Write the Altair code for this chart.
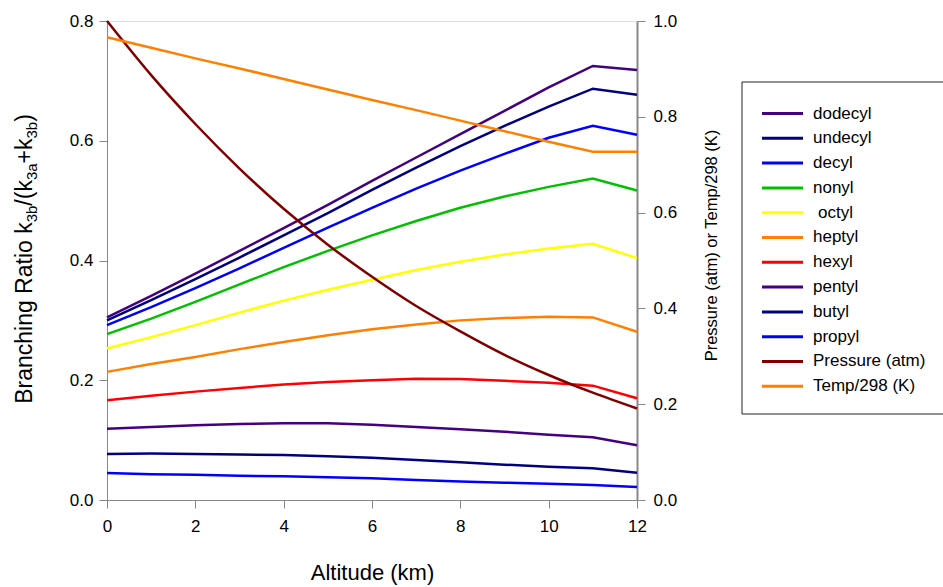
import altair as alt
import pandas as pd

# ---------------- data ----------------
altitude = [0, 1, 2, 3, 4, 5, 6, 7, 8, 9, 10, 11, 12]

dodecyl = [0.305, 0.341, 0.378, 0.416, 0.454, 0.493, 0.533, 0.572, 0.611, 0.650, 0.689, 0.725, 0.718]
undecyl = [0.300, 0.334, 0.369, 0.405, 0.442, 0.479, 0.518, 0.555, 0.591, 0.625, 0.657, 0.687, 0.677]
decyl = [0.292, 0.322, 0.354, 0.387, 0.421, 0.455, 0.488, 0.520, 0.550, 0.578, 0.605, 0.625, 0.610]
nonyl = [0.277, 0.303, 0.331, 0.360, 0.389, 0.416, 0.442, 0.466, 0.488, 0.507, 0.523, 0.537, 0.517]
octyl = [0.253, 0.272, 0.292, 0.313, 0.333, 0.351, 0.368, 0.384, 0.398, 0.410, 0.420, 0.428, 0.404]
heptyl = [0.214, 0.227, 0.239, 0.252, 0.264, 0.275, 0.285, 0.293, 0.300, 0.304, 0.306, 0.305, 0.281]
hexyl = [0.1665, 0.174, 0.181, 0.187, 0.193, 0.197, 0.200, 0.2025, 0.202, 0.199, 0.196, 0.191, 0.170]
pentyl = [0.119, 0.122, 0.1247, 0.127, 0.128, 0.128, 0.1258, 0.122, 0.118, 0.114, 0.109, 0.1047, 0.0913]
butyl = [0.077, 0.0775, 0.077, 0.076, 0.075, 0.073, 0.0707, 0.067, 0.063, 0.059, 0.0557, 0.053, 0.0456]
propyl = [0.045, 0.043, 0.042, 0.0405, 0.0395, 0.038, 0.0362, 0.0335, 0.031, 0.029, 0.027, 0.025, 0.0217]

pressure = [1.000, 0.887, 0.785, 0.692, 0.608, 0.533, 0.466, 0.405, 0.352, 0.303, 0.261, 0.224, 0.191]
temp298 = [0.966, 0.944, 0.922, 0.901, 0.879, 0.857, 0.835, 0.814, 0.792, 0.770, 0.748, 0.727, 0.727]

ratio_names = ["dodecyl", "undecyl", "decyl", "nonyl", "octyl", "heptyl",
               "hexyl", "pentyl", "butyl", "propyl"]
ratio_series = [dodecyl, undecyl, decyl, nonyl, octyl, heptyl, hexyl, pentyl, butyl, propyl]
atm_names = ["Pressure (atm)", "Temp/298 (K)"]
atm_series = [pressure, temp298]
legend_labels = ["dodecyl", "undecyl", "decyl", "nonyl", "octyl", "heptyl",
                 "hexyl", "pentyl", "butyl", "propyl", "Pressure (atm)", "Temp/298 (K)"]
indented_label = "octyl"   # shown with a leading space in the reference legend

all_names = ratio_names + atm_names
colors = ["#440080", "#000080", "#0000FF", "#00C000", "#FFFF00", "#FF8000",
          "#FF0000", "#440080", "#000080", "#0000FF", "#800000", "#FF8000"]

left_ticks = [0.0, 0.2, 0.4, 0.6, 0.8]
right_ticks = [0.0, 0.2, 0.4, 0.6, 0.8, 1.0]
x_ticks = [0, 2, 4, 6, 8, 10, 12]

# ---------------- tables ----------------
ratio_df = pd.DataFrame(
    [{"alt": a, "value": v, "series": n}
     for n, s in zip(ratio_names, ratio_series) for a, v in zip(altitude, s)])
press_df = pd.DataFrame({"alt": altitude, "value": pressure, "series": atm_names[0]})
temp_df = pd.DataFrame({"alt": altitude, "value": temp298, "series": atm_names[1]})
legend_df = pd.DataFrame({"series": all_names, "label": legend_labels,
                          "row": list(range(len(all_names)))})
dummy = pd.DataFrame({"d": [0]})

FONT = "Liberation Sans"
W, H = 530, 479

color_enc = alt.Color("series:N", scale=alt.Scale(domain=all_names, range=colors), legend=None)
x_enc = alt.X("alt:Q", scale=alt.Scale(domain=[0, 12], nice=False),
              axis=alt.Axis(values=x_ticks, title="Altitude (km)", grid=False,
                            tickSize=8, labelPadding=10, labelFontSize=17, labelFlush=False,
                            titleFontSize=22, titleFontWeight="normal",
                            titleY=72, titleBaseline="middle"))

ratio_layer = alt.Chart(ratio_df).mark_line(strokeWidth=2.5).encode(
    x=x_enc,
    y=alt.Y("value:Q", scale=alt.Scale(domain=[0, 0.8], nice=False),
            axis=alt.Axis(orient="left", values=left_ticks, format=".1f", title=None,
                          grid=False, tickSize=8, labelPadding=6, labelFontSize=17,
                          labelFlush=False)),
    color=color_enc,
)

right_y = alt.Y("value:Q", scale=alt.Scale(domain=[0, 1.0], nice=False),
                axis=alt.Axis(orient="right", values=right_ticks, format=".1f",
                              title="Pressure (atm) or Temp/298 (K)", grid=False,
                              tickSize=8, labelPadding=8, labelFontSize=17, labelFlush=False,
                              domainColor="#888888", domainWidth=2,
                              titleFontSize=16.5, titleFontWeight="normal",
                              titleAngle=270, titleX=74, titleY=224,
                              titleAlign="center", titleBaseline="middle"))

press_layer = alt.Chart(press_df).mark_line(strokeWidth=2.5, interpolate="monotone").encode(
    x=alt.X("alt:Q"), y=right_y, color=color_enc)
temp_layer = alt.Chart(temp_df).mark_line(strokeWidth=2.5).encode(
    x=alt.X("alt:Q"), y=alt.Y("value:Q"), color=color_enc)
atm_layer = alt.layer(press_layer, temp_layer)

# ---------------- legend (drawn from the names list) ----------------
box = alt.Chart(dummy).mark_rect(fill="white", stroke="#222222", strokeWidth=1).encode(
    x=alt.value(635), x2=alt.value(870), y=alt.value(61), y2=alt.value(393))

leg_y = alt.Y("row:Q", scale=alt.Scale(domain=[-3.73, 15.585], reverse=True, nice=False,
                                       zero=False), axis=None)
leg_lines = alt.Chart(legend_df).mark_rule(strokeWidth=3).encode(
    x=alt.value(655), x2=alt.value(696), y=leg_y, color=color_enc)
leg_text = alt.Chart(legend_df).mark_text(align="left", baseline="middle", fontSize=17,
                                          font=FONT, color="black").encode(
    x=alt.value(706), y=leg_y, text="label:N"
).transform_filter(alt.datum.label != indented_label)
leg_text_indent = alt.Chart(legend_df).mark_text(align="left", baseline="middle", fontSize=17,
                                                 font=FONT, color="black", dx=5).encode(
    x=alt.value(706), y=leg_y, text="label:N"
).transform_filter(alt.datum.label == indented_label)

# ---------------- left axis title with subscripts ----------------
cw = {"B": 667, "r": 333, "a": 556, "n": 556, "c": 500, "h": 556, "i": 222, "g": 556,
      " ": 278, "R": 722, "t": 278, "o": 556, "k": 500, "/": 278, "(": 333, ")": 333,
      "+": 584, "3": 556, "b": 556}
F, S = 23, 15
segments = [("Branching Ratio k", F, 0), ("3b", S, 5), ("/(k", F, 0), ("3a", S, 5),
            ("+k", F, 0), ("3b", S, 5), (")", F, 0)]
widths = [sum(cw[c] for c in t) * sz / 1000 for t, sz, _ in segments]
total = sum(widths)
center_y, base_x = 238, -75
pos = center_y + total / 2
title_layers = []
for (t, sz, sh), w in zip(segments, widths):
    title_layers.append(
        alt.Chart(dummy).mark_text(text=t, fontSize=sz, font=FONT, angle=270,
                                   align="left", baseline="alphabetic", color="black")
        .encode(x=alt.value(base_x + sh), y=alt.value(pos)))
    pos -= w

chart = alt.layer(ratio_layer, atm_layer, box, leg_lines, leg_text, leg_text_indent,
                  *title_layers).resolve_scale(
    y="independent"
).properties(
    width=W, height=H,
    autosize=alt.AutoSizeParams(type="none"),
    padding={"left": 107, "top": 21, "right": 306, "bottom": 87},
).configure_view(
    stroke="#333333", strokeWidth=1.5
).configure_axis(
    labelFont=FONT, titleFont=FONT, labelColor="black", titleColor="black",
    domainColor="#333333", tickColor="#333333", domainWidth=1.5, tickWidth=1.5,
).configure(background="white")

chart.save("out.html", embed_options={"renderer": "svg", "actions": False})
